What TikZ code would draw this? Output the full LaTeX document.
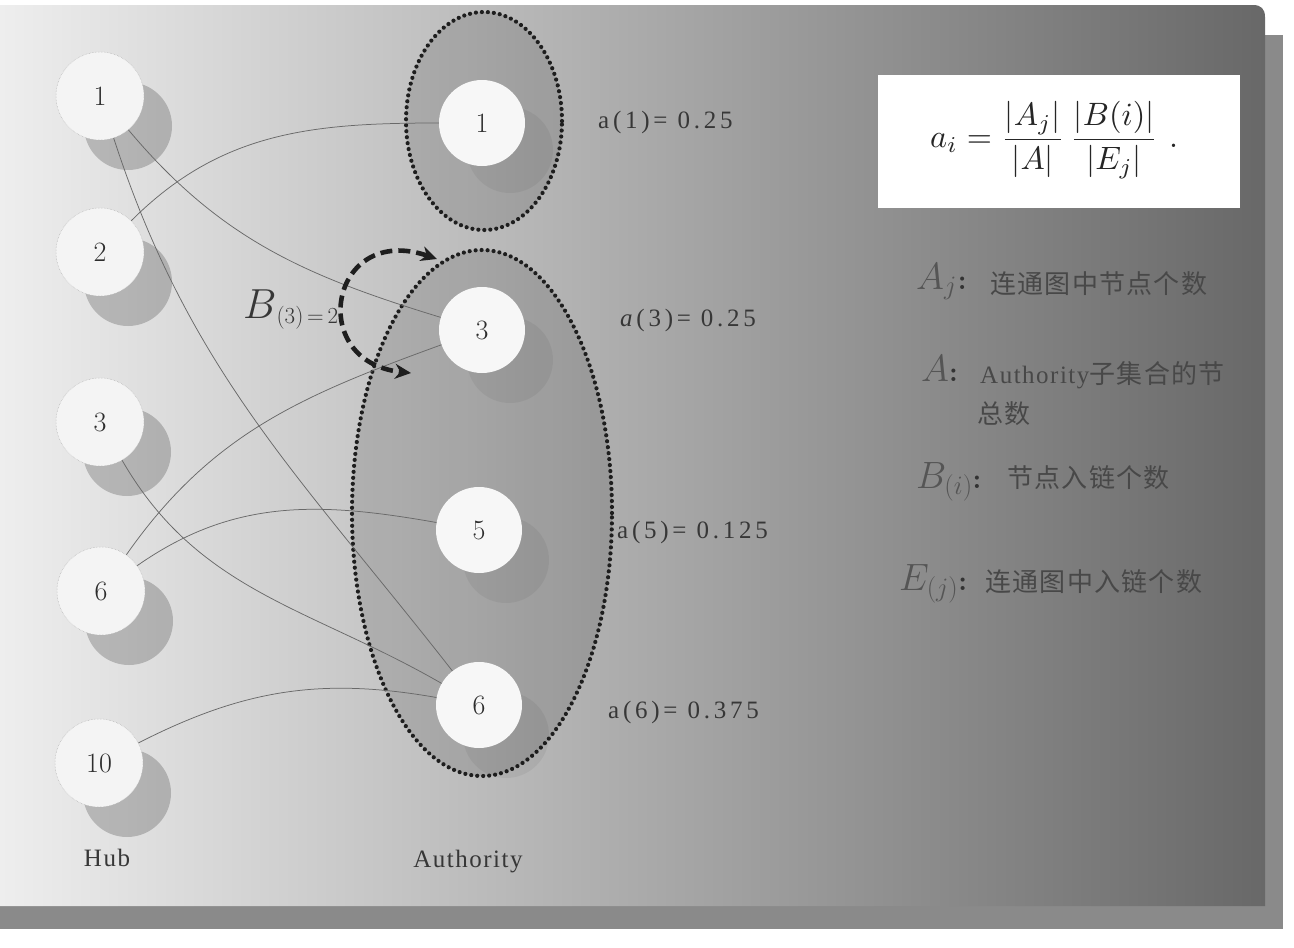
\RequirePackage{fix-cm}
\documentclass[tikz,border=0pt]{standalone}
\usepackage{fontspec}
\usepackage{amsmath}
\usepackage{graphicx}
\newfontfamily\lblfont[LetterSpace=15]{Liberation Serif}
\newfontfamily\capfont[LetterSpace=6]{Liberation Serif}
\newfontfamily\cjk[LetterSpace=5]{Noto Sans CJK SC}
\usetikzlibrary{arrows.meta,shapes.geometric}
\definecolor{bgL}{RGB}{238,238,238}
\definecolor{bgR}{RGB}{104,104,104}
\definecolor{stripc}{RGB}{138,138,138}
\definecolor{dotc}{RGB}{30,30,30}
\definecolor{edgec}{RGB}{105,105,105}
\definecolor{numc}{RGB}{45,45,45}
\definecolor{hubw}{RGB}{244,244,244}
\definecolor{txtc}{RGB}{55,55,55}
\definecolor{bigc}{RGB}{85,85,85}
\definecolor{zhc}{RGB}{72,72,72}
\begin{document}
\begin{tikzpicture}[x=1pt,y=-1pt,
  hubc/.style={circle,minimum size=88pt,inner sep=0pt,fill=hubw,draw=gray!60,line width=0.5pt,densely dotted,font=\fontsize{28}{30}\selectfont,text=numc},
  authc/.style={circle,minimum size=86pt,inner sep=0pt,fill=white!97!black,font=\fontsize{28}{30}\selectfont,text=numc},
  hshd/.style={circle,minimum size=88pt,inner sep=0pt,fill=black,fill opacity=0.2},
  ashd/.style={circle,minimum size=86pt,inner sep=0pt,fill=black,fill opacity=0.05},
  grp/.style={ellipse,inner sep=0pt,draw=dotc,line width=4.2pt,dash pattern=on 0pt off 6pt,line cap=round,fill=black,fill opacity=0.12},
  edge/.style={draw=edgec,line width=0.75pt},
  lbl/.style={anchor=west,inner sep=0pt,text=txtc,font=\lblfont\fontsize{25}{25}\selectfont},
  capl/.style={inner sep=0pt,text=txtc,font=\capfont\fontsize{25}{25}\selectfont},
  loopst/.style={draw=dotc,line width=4.6pt,dash pattern=on 12pt off 6pt,{Stealth[length=16pt,width=15pt]}-{Stealth[length=16pt,width=15pt]}},
  bigl/.style={anchor=base west,inner sep=0pt,text=bigc},
  zh/.style={anchor=west,inner sep=0pt,text=zhc,font=\cjk\fontsize{26}{26}\selectfont}
]
\useasboundingbox (0,0) rectangle (1294,948);
\fill[white] (0,0) rectangle (1294,948);
% shadow strips
\fill[stripc] (1250,35) rectangle (1283,929);
\fill[stripc] (0,900) rectangle (1283,929);
% panel
\shade[left color=bgL,right color=bgR] (0,5) -- (1253,5) .. controls (1261,5) and (1265,9) .. (1265,17) -- (1265,906) -- (0,906) -- cycle;

% authority groups
\node[grp,minimum width=156pt,minimum height=218pt] (g1) at (484,121) {};
\node[grp,minimum width=260pt,minimum height=526pt] (g2) at (482,513) {};

% hub shadows
\node[hshd] (s1) at (128,126) {};
\node[hshd] (s2) at (128,282) {};
\node[hshd] (s3) at (127,452) {};
\node[hshd] (s6) at (129,621) {};
\node[hshd] (s10) at (127,793) {};
% authority shadows
\node[ashd] (t1) at (510,150) {};
\node[ashd] (t3) at (510,360) {};
\node[ashd] (t5) at (506,560) {};
\node[ashd] (t6) at (506,735) {};

% hub nodes
\node[hubc] (h1) at (100,96) {1};
\node[hubc] (h2) at (100,252) {2};
\node[hubc] (h3) at (100,422) {3};
\node[hubc] (h6) at (101,591) {6};
\node[hubc] (h10) at (99,763) {10};

% authority nodes
\node[authc] (a1) at (482,123) {1};
\node[authc] (a3) at (482,330) {3};
\node[authc] (a5) at (479,530) {5};
\node[authc] (a6) at (479,705) {6};

% edges
\draw[edge] (h1) to[out=-50,in=163] (a3);
\draw[edge] (h1) to[out=-72,in=128] (a6);
\draw[edge] (h2) to[out=45,in=180] (a1);
\draw[edge] (h3) to[out=-60,in=150] (a6);
\draw[edge] (h6) to[out=55,in=-160] (a3);
\draw[edge] (h6) to[out=35,in=170] (a5);
\draw[edge] (h10) to[out=27,in=170] (a6);

% values
\node[lbl] (l1) at (598,122) {a(1)= 0.25};
\node[lbl] (l3) at (620,320) {\textit{a}(3)= 0.25};
\node[lbl] (l5) at (617,532) {a(5)= 0.125};
\node[lbl] (l6) at (608,712) {a(6)= 0.375};

% captions
\node[capl] (hubl) at (107,858) {Hub};
\node[capl] (authl) at (468,862) {Authority};

% B(3) loop
\node[anchor=base west,inner sep=0pt,text=txtc] (blab) at (243,318) {\fontsize{42}{42}\selectfont$B$\fontsize{23}{23}\selectfont\raisebox{-5pt}{(3)\,=\,2}};
\coordinate (lpA) at (437,259);
\coordinate (lpB) at (411,373);
\draw[loopst] (lpA) .. controls (330,222) and (305,362) .. (lpB);

% formula box
\node[fill=white,minimum width=362pt,minimum height=133pt,inner sep=0pt] (fbox) at (1059,141.5) {};
\node[inner sep=0pt,text=black!85] (form) at (1054,140) {\resizebox{248pt}{!}{$\displaystyle a_i=\frac{|A_j|}{|A|}\,\frac{|B(i)|}{|E_j|}\ .$}};

% legend
\node[bigl] (k1) at (916,289) {\fontsize{38}{38}\selectfont$A_j$\hspace{1pt}\fontsize{28}{28}\selectfont\textcolor{black!80}{\textbf{:}}};
\node[zh] (z1) at (990,284) {连通图中节点个数};
\node[bigl] (k2) at (921,381) {\fontsize{38}{38}\selectfont$A$\fontsize{28}{28}\selectfont\textcolor{black!80}{\textbf{:}}};
\node[zh] (z2) at (980,375) {{\capfont\fontsize{25}{25}\selectfont Authority}子集合的节};
\node[zh] (z3) at (977,414) {总数};
\node[bigl] (k3) at (916,488) {\fontsize{38}{38}\selectfont$B_{(i)}$\fontsize{28}{28}\selectfont\textcolor{black!80}{\textbf{:}}};
\node[zh] (z4) at (1007,478) {节点入链个数};
\node[bigl] (k4) at (899,590) {\fontsize{38}{38}\selectfont$E_{(j)}$\fontsize{28}{28}\selectfont\textcolor{black!80}{\textbf{:}}};
\node[zh] (z5) at (985,582) {连通图中入链个数};
\end{tikzpicture}
\end{document}
